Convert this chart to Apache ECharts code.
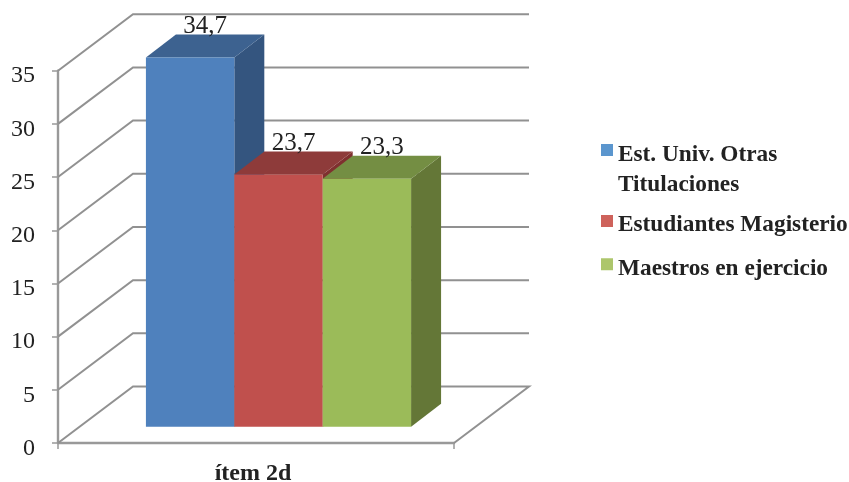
<!DOCTYPE html>
<html>
<head>
<meta charset="utf-8">
<style>html,body{margin:0;padding:0;background:#fff}#chart{width:849px;height:482px}</style>
<script src="https://cdn.jsdelivr.net/npm/echarts@6/dist/echarts.min.js"></script>
</head>
<body>
<div id="chart"></div>
<script>
// Chart content
const categories = ['ítem 2d'];
const seriesNames = ['Est. Univ. Otras\nTitulaciones', 'Estudiantes Magisterio', 'Maestros en ejercicio'];
const otrasTitulaciones = [34.7];
const estudiantesMagisterio = [23.7];
const maestrosEjercicio = [23.3];
const seriesValues = [otrasTitulaciones, estudiantesMagisterio, maestrosEjercicio];
const yTicks = [0, 5, 10, 15, 20, 25, 30, 35];

// Face colours of each column: front, top, side, legend swatch
const palette = [
  { front: '#4F81BD', top: '#3D6290', side: '#34557F', swatch: '#5B96CE' },
  { front: '#C0504D', top: '#8E3B3A', side: '#7F302F', swatch: '#CE625B' },
  { front: '#9BBB59', top: '#748E43', side: '#647737', swatch: '#ADC66C' }
];

// Oblique projection of the box and of the columns standing inside it
const WALL_DX = 75, WALL_DY = -56.5;
const INSET_DX = 22.5, INSET_DY = -16.3;
const BAR_DX = 30, BAR_DY = -23;
const BAR_SHARE = 0.2232;
const FONT = '"Liberation Serif", serif';
const TEXT = '#222222';
const WALL = '#919191';

// Legend rows: top of the text block and icon height (the square sits at the top of the icon,
// so a taller icon lifts it towards the first line of its label)
const legendTops = [140, 210, 253.7];
const legendIconHeights = [52, 20, 21];

function swatchIcon(h) {
  return 'path://M0 0H12V12H0Z M0 ' + h + 'H12Z';
}

function renderWall(params, api) {
  const v = api.value(0);
  const p = api.coord([0, v]);
  const cs = params.coordSys;
  const x0 = cs.x, xEnd = cs.x + cs.width + WALL_DX;
  const y = p[1], yb = y + WALL_DY;
  const pts = [[x0, y], [x0 + WALL_DX, yb], [xEnd, yb]];
  if (v === 0) pts.push([cs.x + cs.width, y]);
  return {
    type: 'polyline',
    shape: { points: pts },
    style: { fill: null, stroke: WALL, lineWidth: 2 }
  };
}

function renderColumn(seriesIdx) {
  return function (params, api) {
    const val = api.value(1);
    const top = api.coord([api.value(0), val]);
    const base = api.coord([api.value(0), 0]);
    const w = api.size([1, 0])[0] * BAR_SHARE;
    const x = top[0] + INSET_DX + (seriesIdx - 1.5) * w;
    const yt = top[1] + INSET_DY, yb = base[1] + INSET_DY;
    const c = palette[seriesIdx];
    const poly = (pts, fill) => ({ type: 'polygon', shape: { points: pts }, style: { fill: fill } });
    return {
      type: 'group',
      children: [
        poly([[x + w, yt], [x + w + BAR_DX, yt + BAR_DY], [x + w + BAR_DX, yb + BAR_DY], [x + w, yb]], c.side),
        poly([[x, yt], [x + BAR_DX, yt + BAR_DY], [x + w + BAR_DX, yt + BAR_DY], [x + w, yt]], c.top),
        { type: 'rect', shape: { x: x, y: yt, width: w, height: yb - yt }, style: { fill: c.front } },
        {
          type: 'text',
          z2: 10,
          style: {
            x: x + w / 2 + BAR_DX / 2,
            y: yt - 31,
            text: String(val).replace('.', ','),
            fill: TEXT,
            font: '25px ' + FONT,
            align: 'center',
            verticalAlign: 'middle'
          }
        }
      ]
    };
  };
}

const chart = echarts.init(document.getElementById('chart'), null, { renderer: 'canvas' });
chart.setOption({
  animation: false,
  backgroundColor: '#ffffff',
  grid: { left: 58, top: 70.7, width: 396, height: 372.3, outerBoundsMode: 'none' },
  legend: seriesNames.map((n, i) => ({
    orient: 'vertical',
    left: 601,
    top: legendTops[i],
    padding: 0,
    itemWidth: 12,
    itemHeight: legendIconHeights[i],
    selectedMode: false,
    textStyle: { fontFamily: FONT, fontSize: 23.3, fontWeight: 'bold', color: TEXT, lineHeight: 30 },
    data: [{ name: n, icon: swatchIcon(legendIconHeights[i]), itemStyle: { color: palette[i].swatch } }]
  })),
  xAxis: {
    type: 'category',
    data: categories,
    axisLine: { lineStyle: { color: '#999999', width: 2.4 } },
    axisTick: { show: true, length: 6, lineStyle: { color: '#999999', width: 1.5 } },
    axisLabel: { fontFamily: FONT, fontSize: 24, fontWeight: 'bold', color: TEXT, margin: 19, padding: [0, 6, 0, 0] }
  },
  yAxis: {
    type: 'value',
    min: 0,
    max: 35,
    interval: 5,
    splitLine: { show: false },
    axisLine: { show: true, lineStyle: { color: '#999999', width: 2.4 } },
    axisTick: { show: true, length: 6, lineStyle: { color: '#999999', width: 1.5 } },
    axisLabel: { fontFamily: FONT, fontSize: 24, color: TEXT, margin: 23, verticalAlign: 'top', lineHeight: 11 }
  },
  series: [
    {
      name: 'walls',
      type: 'custom',
      silent: true,
      coordinateSystem: 'cartesian2d',
      encode: { y: 0 },
      data: yTicks.map(t => [t]),
      renderItem: renderWall,
      z: 1
    }
  ].concat(seriesNames.map((n, i) => ({
    name: n,
    type: 'custom',
    coordinateSystem: 'cartesian2d',
    encode: { x: 0, y: 1 },
    data: seriesValues[i].map((v, k) => [categories[k], v]),
    renderItem: renderColumn(i),
    z: 3 + i
  })))
});
</script>
</body>
</html>
